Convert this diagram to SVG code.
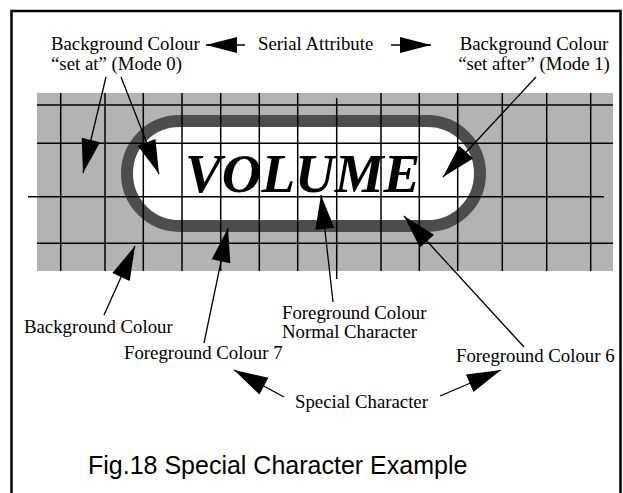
<svg xmlns="http://www.w3.org/2000/svg" width="623" height="493" viewBox="0 0 623 493">
<style>
.lbl{font-family:"Liberation Serif","Times New Roman",serif;font-size:18.8px;fill:#000}
.cap{font-family:"Liberation Sans",Arial,sans-serif;font-size:25px;fill:#000}
.big{font-family:"Liberation Serif","Times New Roman",serif;font-size:55px;font-weight:bold;font-style:italic;fill:#000}
.grid line{stroke:#000;stroke-width:1.5}
.conn line{stroke:#000;stroke-width:1.3;fill:none}
.conn line.a{marker-end:url(#ah)}
.conn line.s{marker-end:url(#as)}
</style>
<defs>
<marker id="ah" markerUnits="userSpaceOnUse" markerWidth="34" markerHeight="19" refX="34" refY="9.5" orient="auto" overflow="visible"><path d="M0,0 L34,9.5 L0,19 Z" fill="#000"/></marker>
<marker id="as" markerUnits="userSpaceOnUse" markerWidth="31" markerHeight="16" refX="31" refY="8" orient="auto" overflow="visible"><path d="M0,0 L31,8 L0,16 Z" fill="#000"/></marker>
</defs>
<rect width="623" height="493" fill="#fff"/>
<rect id="frame" x="11.5" y="11" width="609" height="500" fill="none" stroke="#000" stroke-width="2.5"/>
<g id="band">
<rect x="37" y="93" width="576" height="178" fill="#b3b3b3"/>
<rect x="127" y="121" width="353" height="105" rx="52.5" ry="52.5" fill="#fff" stroke="#4d4d4d" stroke-width="12"/>
</g>
<g id="grid" class="grid">
<line x1="37" y1="105" x2="613" y2="105"/>
<line x1="37" y1="143.3" x2="613" y2="143.3"/>
<line x1="28" y1="196.7" x2="604" y2="196.7"/>
<line x1="37" y1="243.3" x2="613" y2="243.3"/>
<line x1="60.7" y1="93" x2="60.7" y2="271"/>
<line x1="105" y1="93" x2="105" y2="271"/>
<line x1="143.3" y1="93" x2="143.3" y2="271"/>
<line x1="182" y1="93" x2="182" y2="271"/>
<line x1="220.7" y1="93" x2="220.7" y2="271"/>
<line x1="259.3" y1="93" x2="259.3" y2="271"/>
<line x1="297.7" y1="93" x2="297.7" y2="271"/>
<line x1="336.7" y1="98" x2="336.7" y2="279"/>
<line x1="381" y1="93" x2="381" y2="271"/>
<line x1="419.3" y1="93" x2="419.3" y2="271"/>
<line x1="457.7" y1="93" x2="457.7" y2="271"/>
<line x1="502.3" y1="93" x2="502.3" y2="271"/>
<line x1="546.7" y1="93" x2="546.7" y2="271"/>
<line x1="590.7" y1="93" x2="590.7" y2="271"/>
</g>
<g id="volume"><text class="big" x="185" y="191.7">VOLUME</text></g>
<g id="connectors" class="conn">
<line class="s" x1="245" y1="45" x2="206" y2="45"/>
<line class="s" x1="391" y1="45" x2="431" y2="45"/>
<line class="a" x1="106" y1="77" x2="83" y2="173"/>
<line class="a" x1="121" y1="77" x2="159" y2="174"/>
<line class="a" x1="536" y1="77" x2="443" y2="177"/>
<line class="a" x1="104" y1="315" x2="135" y2="246"/>
<line class="a" x1="204" y1="343" x2="228" y2="228"/>
<line class="a" x1="333" y1="302" x2="321" y2="195"/>
<line class="a" x1="524" y1="347" x2="404" y2="216"/>
<line class="a" x1="284" y1="397" x2="234" y2="370"/>
<line class="a" x1="440" y1="396" x2="501" y2="370"/>
</g>
<g id="bg-set-at"><text class="lbl" x="51" y="50">Background Colour</text><text class="lbl" x="51" y="70">“set at” (Mode 0)</text></g>
<g id="serial"><text class="lbl" x="258" y="50">Serial Attribute</text></g>
<g id="bg-set-after"><text class="lbl" x="534" y="50" text-anchor="middle">Background Colour</text><text class="lbl" x="534" y="70" text-anchor="middle">“set after” (Mode 1)</text></g>
<g id="bg"><text class="lbl" x="24" y="333">Background Colour</text></g>
<g id="fg-normal"><text class="lbl" x="282" y="318.5">Foreground Colour</text><text class="lbl" x="282" y="338">Normal Character</text></g>
<g id="fg7"><text class="lbl" x="124" y="359">Foreground Colour 7</text></g>
<g id="fg6"><text class="lbl" x="456" y="361.7">Foreground Colour 6</text></g>
<g id="special"><text class="lbl" x="295" y="408">Special Character</text></g>
<g id="caption"><text class="cap" x="88" y="474">Fig.18 Special Character Example</text></g>
</svg>
